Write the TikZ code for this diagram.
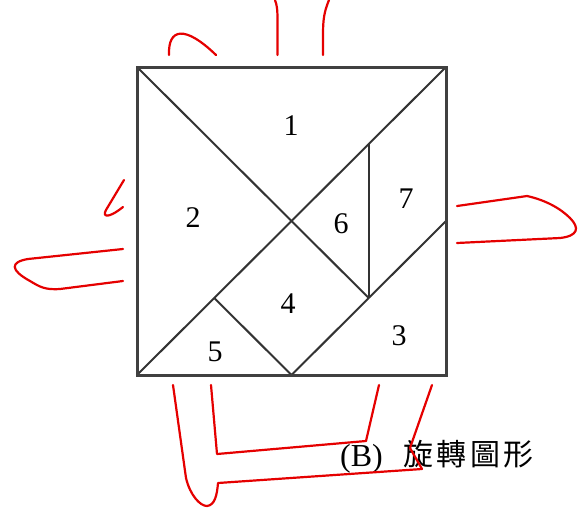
\documentclass[tikz,border=0pt]{standalone}
\usepackage{fontspec}
\setmainfont{Liberation Serif}
\newfontfamily\cjkfont[LetterSpace=12]{Noto Sans CJK TC}
\begin{document}
\begin{tikzpicture}[x=1pt,y=-1pt,
  edge/.style={line width=2pt,draw=black!80},
  frame/.style={line width=3pt,draw=black!75},
  redline/.style={line width=2.2pt,draw=red!90!black,line cap=round,line join=round},
  num/.style={inner sep=0pt,font=\fontsize{30}{31}\selectfont}]
\useasboundingbox (0,0) rectangle (581,507);
% tangram points
\coordinate (TL) at (137,67);
\coordinate (TR) at (446,67);
\coordinate (BR) at (446,375);
\coordinate (BL) at (137,375);
\coordinate (C) at (291.5,221);
\coordinate (P) at (368.75,298);
\coordinate (M5) at (214.25,298);
\coordinate (BM) at (291.5,375);
\coordinate (RM) at (446,221);
\coordinate (V) at (368.75,144);
% lines
\draw[edge] (TL) -- (P);
\draw[edge] (BL) -- (TR);
\draw[edge] (M5) -- (BM) -- (P);
\draw[edge] (P) -- (V);
\draw[edge] (P) -- (RM);
\draw[frame] (TL) rectangle (BR);
% labels
\node[num] (n1) at (291,126) {1};
\node[num] (n2) at (193,218) {2};
\node[num] (n3) at (399,336) {3};
\node[num] (n4) at (288,304) {4};
\node[num] (n5) at (215,352) {5};
\node[num] (n6) at (341,224) {6};
\node[num] (n7) at (406,199) {7};
% caption
\node[anchor=base west,inner sep=0pt,font=\fontsize{32}{34}\selectfont] (cap) at (340,466) {(B)};
\node[anchor=base west,inner sep=0pt,font=\fontsize{30}{31}\selectfont\cjkfont] (capc) at (403,465) {旋轉圖形};
% red strokes
\draw[redline] (169,55) .. controls (168,28) and (185,25) .. (216,55);
\draw[redline] (275,0) .. controls (277,5) and (277.5,10) .. (277.5,20) -- (277.5,55);
\draw[redline] (329,0) .. controls (324,12) and (323,20) .. (323,35) -- (323,55);
\draw[redline] (124,180) -- (106,210) .. controls (102,217) and (108,219) .. (123,207);
\draw[redline] (123,249) -- (28,259) .. controls (10,262) and (10,270) .. (30,281) .. controls (40,287) and (45,290) .. (60,289) -- (123,281);
\draw[redline] (457,206) -- (527,196) .. controls (545,200) and (560,208) .. (570,218) .. controls (580,228) and (578,236) .. (560,238) -- (457,243);
\draw[redline] (173,385) -- (186,478) .. controls (190,495) and (200,506) .. (207,506) .. controls (215,505) and (217,495) .. (218,483) -- (422,469) -- (410,448) -- (432,385);
\draw[redline] (211,385) -- (217,454) -- (366,441) -- (379,385);
\end{tikzpicture}
\end{document}
